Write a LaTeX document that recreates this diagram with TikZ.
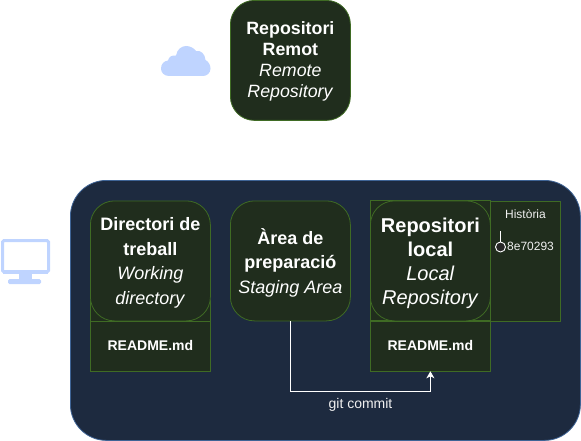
\documentclass[tikz,border=0pt]{standalone}
\usepackage{fontspec}
\setmainfont{Liberation Sans}
\usetikzlibrary{arrows.meta}
\definecolor{navy}{HTML}{1D2A3F}
\definecolor{navyline}{HTML}{3F6496}
\definecolor{moss}{HTML}{202D1D}
\definecolor{mossline}{HTML}{3F6B24}
\definecolor{icon}{HTML}{BFD4FF}
\definecolor{soft}{HTML}{F0F0F0}
\tikzset{
  x=1pt,y=-1pt,
  panel/.style={draw=mossline,fill=moss,line width=0.8pt,rounded corners=24pt,minimum width=120pt,minimum height=120pt,inner sep=0pt,text=white,align=center,anchor=north west},
  filebox/.style={draw=mossline,fill=moss,line width=0.8pt,minimum width=120pt,minimum height=50pt,inner sep=0pt,text=white,anchor=north west,font=\fontsize{14}{16}\selectfont\bfseries},
  backbox/.style={draw=mossline,fill=moss,line width=0.8pt},
  linkline/.style={draw=white,line width=0.9pt},
  plain/.style={inner sep=0pt,text=soft},
}
\begin{document}
\begin{tikzpicture}
\useasboundingbox (0,0) rectangle (581,441);
% container
\node[draw=navyline,fill=navy,line width=0.8pt,rounded corners=36pt,minimum width=510pt,minimum height=260pt,inner sep=0pt,anchor=north west] (machine) at (70,180) {};
% cloud icon
\fill[icon,rounded corners=0pt] (169,76) .. controls (164,76) and (161,72.5) .. (161,68.5)
  .. controls (161,64) and (164,61) .. (168,60.5)
  .. controls (169,56.5) and (172,55) .. (176,55.5)
  .. controls (177,49) and (182,46) .. (186,46)
  .. controls (190,46) and (194,48) .. (196,51)
  .. controls (201,50) and (205,54) .. (205.5,60)
  .. controls (208.5,61.5) and (210.5,65) .. (210.5,68.5)
  .. controls (210.5,73) and (207,76) .. (203,76) -- cycle;
% monitor icon
\draw[icon,line width=3pt,rounded corners=1.5pt] (2.5,240.5) rectangle (48.5,272);
\fill[icon] (3,270) rectangle (48,274);
\fill[icon] (19,273) rectangle (32,279);
\fill[icon,rounded corners=1.5pt] (8,279) rectangle (41,284);
% remote
\node[panel,font=\fontsize{17.8}{21}\selectfont] (remote) at (230,0) {\rule{0pt}{14pt}\textbf{Repositori}\\\textbf{Remot}\\\textit{Remote}\\\textit{Repository}};
% working
\fill[moss] (90,300) rectangle (210,370.5);
\draw[backbox,fill=none] (90,300) -- (90,370.5) -- (210,370.5) -- (210,300);
\node[panel,font=\fontsize{18}{24.5}\selectfont] (working) at (90,200.5) {\rule{0pt}{17pt}\textbf{Directori de}\\\textbf{treball}\\\textit{Working}\\\textit{directory}};
\node[filebox] (workfile) at (90,320.5) {README.md};
% staging
\node[panel,font=\fontsize{18}{24.5}\selectfont] (staging) at (230,200.5) {\rule{0pt}{19pt}\textbf{Àrea de}\\\textbf{preparació}\\\textit{Staging Area}};
% local
\draw[backbox] (370,200.5) rectangle (490,320.5);
\node[panel,font=\fontsize{20}{24}\selectfont] (local) at (370,200.5) {\rule{0pt}{18.5pt}\textbf{Repositori}\\\textbf{local}\\\textit{Local}\\\textit{Repository}};
\node[filebox] (localfile) at (370,320.5) {README.md};
% history
\node[draw=mossline,fill=moss,line width=0.8pt,minimum width=70pt,minimum height=120pt,inner sep=0pt,anchor=north west] (history) at (490,200.5) {};
\node[plain,font=\fontsize{12}{14}\selectfont] (historylabel) at (525.5,214.5) {Història};
\node[draw=white,fill=black!85,line width=0.9pt,circle,minimum size=10pt,inner sep=0pt] (commit) at (500.5,247) {};
\coordinate (tail) at (500.5,231);
\draw[linkline] (tail) -- (commit);
\node[plain,anchor=west,font=\fontsize{12}{14}\selectfont] (hash) at (507,246.5) {8e70293};
% connector
\coordinate (bend1) at (staging.south |- 0,391);
\coordinate (bend2) at (localfile.south |- 0,391);
\draw[linkline,-{Stealth[length=7pt,width=8pt,inset=2pt]}] (staging.south) -- (bend1) -- (bend2) -- (localfile.south);
\node[plain,font=\fontsize{14}{16}\selectfont] (commitlabel) at (360.5,405) {git commit};
\end{tikzpicture}
\end{document}
